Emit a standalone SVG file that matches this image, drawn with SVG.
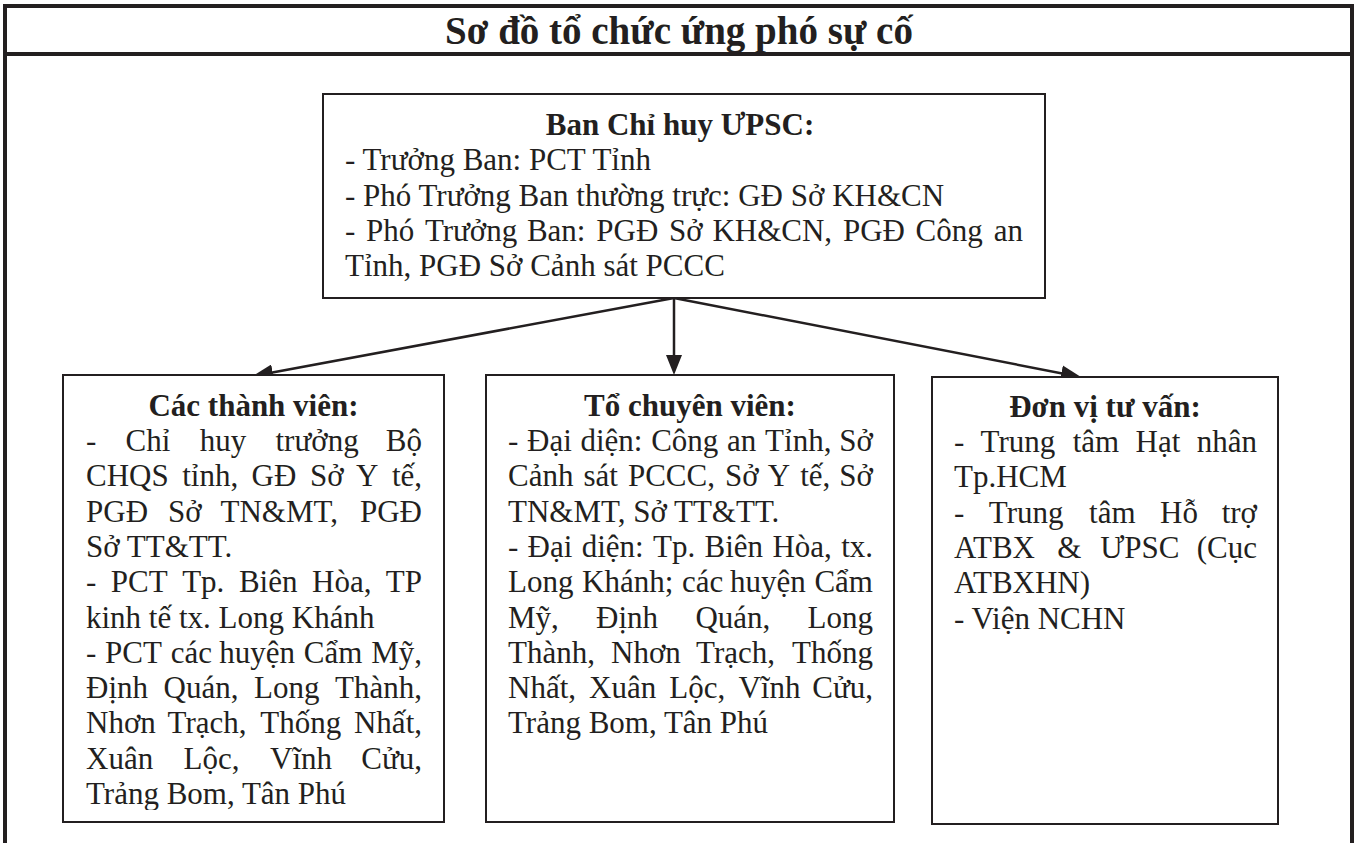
<svg xmlns="http://www.w3.org/2000/svg" width="1358" height="843" viewBox="0 0 1358 843">
<style>
.t{font-family:'Liberation Serif','Times New Roman',serif;font-size:31px;fill:#231f20}
.h{font-weight:bold;text-anchor:middle}
.e{text-anchor:end}
.box{fill:#fff;stroke:#231f20;stroke-width:2}
.conn{stroke:#231f20;stroke-width:2.5;fill:none;marker-end:url(#arr)}
.frame{fill:none;stroke:#231f20;stroke-width:4}
</style>
<defs>
<marker id="arr" viewBox="0 0 20 16" refX="14" refY="8" markerWidth="20" markerHeight="16" markerUnits="userSpaceOnUse" orient="auto">
<path d="M0,0 L20,8 L0,16 Z" fill="#231f20"/>
</marker>
<clipPath id="clipLeft"><rect x="64" y="376" width="379" height="434"/></clipPath>
</defs>
<rect width="1358" height="843" fill="#fff"/>
<g id="frame">
<path class="frame" d="M5,843 V6 H1352 V843 M5,54 H1352"/>
<text class="t h" x="679" y="44" style="font-size:39px">Sơ đồ tổ chức ứng phó sự cố</text>
</g>
<g id="connectors">
<line class="conn" x1="674" y1="298" x2="674" y2="369"/>
<line class="conn" x1="674" y1="298" x2="258.9" y2="374.9"/>
<line class="conn" x1="674" y1="298" x2="1075.1" y2="375.9"/>
</g>
<g id="node-ban-chi-huy">
<rect class="box" x="323" y="94" width="722" height="204"/>
<text class="t h" x="680" y="135">Ban Chỉ huy ƯPSC:</text>
<text class="t" x="345" y="170.3">- Trưởng Ban: PCT Tỉnh</text>
<text class="t" x="345" y="205.6">- Phó Trưởng Ban thường trực: GĐ Sở KH&amp;CN</text>
<text class="t" y="240.9"><tspan x="345">-</tspan><tspan x="366">Phó</tspan><tspan x="424.9">Trưởng</tspan><tspan x="526.9">Ban:</tspan><tspan x="596.3">PGĐ</tspan><tspan x="669">Sở</tspan><tspan x="712.4">KH&amp;CN,</tspan><tspan x="842.9">PGĐ</tspan><tspan x="915.6">Công</tspan><tspan x="1023" class="e">an</tspan></text>
<text class="t" x="345" y="276.2">Tỉnh, PGĐ Sở Cảnh sát PCCC</text>
</g>
<g id="node-thanh-vien">
<rect class="box" x="63" y="375" width="381" height="447"/>
<g clip-path="url(#clipLeft)">
<text class="t h" x="253.5" y="416">Các thành viên:</text>
<text class="t" y="451"><tspan x="86">-</tspan><tspan x="125.6">Chỉ</tspan><tspan x="199.7">huy</tspan><tspan x="275.5">trưởng</tspan><tspan x="422" class="e">Bộ</tspan></text>
<text class="t" y="486.3"><tspan x="86">CHQS</tspan><tspan x="182.2">tỉnh,</tspan><tspan x="251.6">GĐ</tspan><tspan x="309.9">Sở</tspan><tspan x="356.1">Y</tspan><tspan x="422" class="e">tế,</tspan></text>
<text class="t" y="521.6"><tspan x="86">PGĐ</tspan><tspan x="167.9">Sở</tspan><tspan x="220.5">TN&amp;MT,</tspan><tspan x="422" class="e">PGĐ</tspan></text>
<text class="t" x="86" y="556.9">Sở TT&amp;TT.</text>
<text class="t" y="592.2"><tspan x="86">-</tspan><tspan x="110.8">PCT</tspan><tspan x="182.2">Tp.</tspan><tspan x="238.9">Biên</tspan><tspan x="312">Hòa,</tspan><tspan x="422" class="e">TP</tspan></text>
<text class="t" x="86" y="627.5">kinh tế tx. Long Khánh</text>
<text class="t" y="662.8"><tspan x="86">-</tspan><tspan x="105.1">PCT</tspan><tspan x="170.8">các</tspan><tspan x="219.2">huyện</tspan><tspan x="303.8">Cẩm</tspan><tspan x="422" class="e">Mỹ,</tspan></text>
<text class="t" y="698.1"><tspan x="86">Định</tspan><tspan x="163.6">Quán,</tspan><tspan x="254.1">Long</tspan><tspan x="422" class="e">Thành,</tspan></text>
<text class="t" y="733.4"><tspan x="86">Nhơn</tspan><tspan x="167.6">Trạch,</tspan><tspan x="260.3">Thống</tspan><tspan x="422" class="e">Nhất,</tspan></text>
<text class="t" y="768.7"><tspan x="86">Xuân</tspan><tspan x="183.6">Lộc,</tspan><tspan x="270.1">Vĩnh</tspan><tspan x="422" class="e">Cửu,</tspan></text>
<text class="t" x="86" y="804">Trảng Bom, Tân Phú</text>
</g>
</g>
<g id="node-to-chuyen-vien">
<rect class="box" x="486" y="375" width="408" height="447"/>
<text class="t h" x="690" y="416">Tổ chuyên viên:</text>
<text class="t" y="451"><tspan x="508">-</tspan><tspan x="527">Đại</tspan><tspan x="580.5">diện:</tspan><tspan x="651.2">Công</tspan><tspan x="727.1">an</tspan><tspan x="765.1">Tỉnh,</tspan><tspan x="873" class="e">Sở</tspan></text>
<text class="t" y="486.3"><tspan x="508">Cảnh</tspan><tspan x="583.5">sát</tspan><tspan x="627.9">PCCC,</tspan><tspan x="725">Sở</tspan><tspan x="767.7">Y</tspan><tspan x="800.2">tế,</tspan><tspan x="873" class="e">Sở</tspan></text>
<text class="t" x="508" y="521.6">TN&amp;MT, Sở TT&amp;TT.</text>
<text class="t" y="556.9"><tspan x="508">-</tspan><tspan x="527.6">Đại</tspan><tspan x="581.7">diện:</tspan><tspan x="653">Tp.</tspan><tspan x="704.5">Biên</tspan><tspan x="772.4">Hòa,</tspan><tspan x="873" class="e">tx.</tspan></text>
<text class="t" y="592.2"><tspan x="508">Long</tspan><tspan x="582">Khánh;</tspan><tspan x="681.9">các</tspan><tspan x="730.1">huyện</tspan><tspan x="873" class="e">Cẩm</tspan></text>
<text class="t" y="627.5"><tspan x="508">Mỹ,</tspan><tspan x="596.1">Định</tspan><tspan x="695.4">Quán,</tspan><tspan x="873" class="e">Long</tspan></text>
<text class="t" y="662.8"><tspan x="508">Thành,</tspan><tspan x="611.1">Nhơn</tspan><tspan x="696.1">Trạch,</tspan><tspan x="873" class="e">Thống</tspan></text>
<text class="t" y="698.1"><tspan x="508">Nhất,</tspan><tspan x="589.1">Xuân</tspan><tspan x="669.3">Lộc,</tspan><tspan x="738.4">Vĩnh</tspan><tspan x="873" class="e">Cửu,</tspan></text>
<text class="t" x="508" y="733.4">Trảng Bom, Tân Phú</text>
</g>
<g id="node-don-vi-tu-van">
<rect class="box" x="932" y="377" width="346" height="447"/>
<text class="t h" x="1105" y="417">Đơn vị tư vấn:</text>
<text class="t" y="452"><tspan x="954">-</tspan><tspan x="980.6">Trung</tspan><tspan x="1072.7">tâm</tspan><tspan x="1135.5">Hạt</tspan><tspan x="1257" class="e">nhân</tspan></text>
<text class="t" x="954" y="487.3">Tp.HCM</text>
<text class="t" y="522.6"><tspan x="954">-</tspan><tspan x="988.8">Trung</tspan><tspan x="1089.1">tâm</tspan><tspan x="1160.1">Hỗ</tspan><tspan x="1257" class="e">trợ</tspan></text>
<text class="t" y="557.9"><tspan x="954">ATBX</tspan><tspan x="1057.3">&amp;</tspan><tspan x="1100.3">ƯPSC</tspan><tspan x="1257" class="e">(Cục</tspan></text>
<text class="t" x="954" y="593.2">ATBXHN)</text>
<text class="t" x="954" y="628.5">- Viện NCHN</text>
</g>
</svg>
